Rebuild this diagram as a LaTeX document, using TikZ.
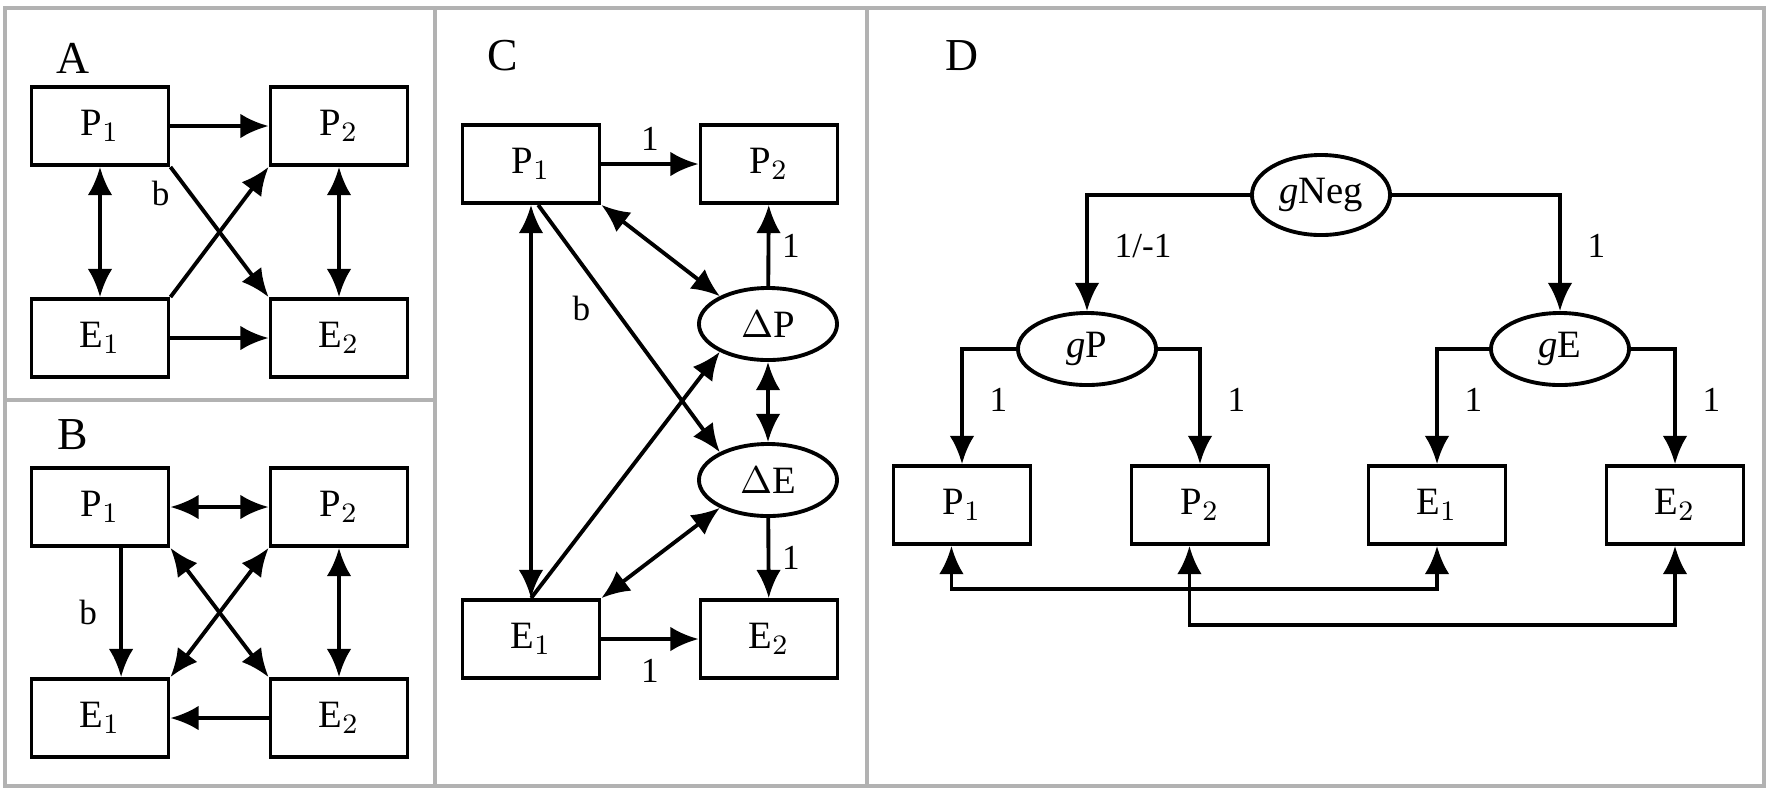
\documentclass[tikz,border=0pt]{standalone}
\usepackage{fontspec}
\setmainfont{Liberation Serif}
\usetikzlibrary{shapes.geometric,arrows.meta}
\tikzset{>={Latex[length=8pt,width=7pt]}}
\tikzset{
  box/.style={draw, line width=1.1pt, minimum width=1.37cm, minimum height=0.78cm, inner sep=0pt, font=\fontsize{11}{13}\selectfont},
  lat/.style={draw, ellipse, line width=1.1pt, minimum width=1.38cm, minimum height=0.72cm, inner sep=0pt, font=\fontsize{11}{13}\selectfont},
  path/.style={line width=1.1pt},
  coef/.style={font=\fontsize{10}{12}\selectfont},
  panel/.style={draw=black!30, line width=1pt},
  tag/.style={font=\fontsize{13}{15}\selectfont}
}
\begin{document}
\begin{tikzpicture}[x=0.01cm, y=-0.01cm]
\useasboundingbox (0,0) rectangle (1772,793);
% panel frames
\draw[panel] (5,8) rectangle (1764,786);
\draw[panel] (435,8) -- (435,786);
\draw[panel] (867,8) -- (867,786);
\draw[panel] (5,400) -- (435,400);

% panel A
\node[tag] at (73,58) {A};
\node[box] (aP1) at (100,126) {P$_1$};
\node[box] (aP2) at (339,126) {P$_2$};
\node[box] (aE1) at (100,338) {E$_1$};
\node[box] (aE2) at (339,338) {E$_2$};
\draw[path,->] (aP1.east) -- (aP2.west);
\draw[path,->] (aE1.east) -- (aE2.west);
\draw[path,<->] (aP1) -- (aE1);
\draw[path,<->] (aP2) -- (aE2);
\draw[path,->] (aP1.south east) -- node[coef, pos=0.2, left=2pt] {b} (aE2.north west);
\draw[path,->] (aE1.north east) -- (aP2.south west);

% panel B
\node[tag] at (73,435) {B};
\node[box] (bP1) at (100,507) {P$_1$};
\node[box] (bP2) at (339,507) {P$_2$};
\node[box] (bE1) at (100,718) {E$_1$};
\node[box] (bE2) at (339,718) {E$_2$};
\draw[path,<->] (bP1.east) -- (bP2.west);
\draw[path,->] (bE2.west) -- (bE1.east);
\draw[path,->] ([xshift=6]bP1.south) -- node[coef, left=3pt] {b} ([xshift=6]bE1.north);
\draw[path,<->] (bP2) -- (bE2);
\draw[path,<->] (bP1.south east) -- (bE2.north west);
\draw[path,<->] (bP2.south west) -- (bE1.north east);

% panel C
\node[tag] at (503,56) {C};
\node[box] (cP1) at (531,164) {P$_1$};
\node[box] (cP2) at (769,164) {P$_2$};
\node[box] (cE1) at (531,639) {E$_1$};
\node[box] (cE2) at (769,639) {E$_2$};
\node[lat] (cdP) at (768,324) {$\Delta$P};
\node[lat] (cdE) at (768,480) {$\Delta$E};
\draw[path,->] (cP1.east) -- node[coef, above] {1} (cP2.west);
\draw[path,->] (cE1.east) -- node[coef, below=2pt] {1} (cE2.west);
\draw[path,<->] (cP1) -- (cE1);
\draw[path,->] (cdP) -- node[coef, right] {1} (cP2);
\draw[path,->] (cdE) -- node[coef, right] {1} (cE2);
\draw[path,<->] (cdP) -- (cdE);
\draw[path,<->] (cP1.south east) -- (cdP.150);
\draw[path,->] ([xshift=-18]cP1.south east) -- node[coef, pos=0.42, left=3pt] {b} (cdE.150);
\draw[path,->] ([xshift=-20]cE1.north east) -- (cdP.210);
\draw[path,<->] (cE1.north east) -- (cdE.210);

% panel D
\node[tag] at (962,56) {D};
\node[lat, minimum height=0.8cm] (gNeg) at (1321,195) {\textit{g}Neg};
\node[lat] (gP) at (1087,349) {\textit{g}P};
\node[lat] (gE) at (1560,349) {\textit{g}E};
\node[box] (dP1) at (962,505) {P$_1$};
\node[box] (dP2) at (1200,505) {P$_2$};
\node[box] (dE1) at (1437,505) {E$_1$};
\node[box] (dE2) at (1675,505) {E$_2$};
\draw[path,->] (gNeg.west) -| node[coef, pos=0.72, right=4pt] {1/-1} (gP.north);
\draw[path,->] (gNeg.east) -| node[coef, pos=0.72, right=4pt] {1} (gE.north);
\draw[path,->] (gP.west) -| node[coef, pos=0.72, right=4pt] {1} (dP1.north);
\draw[path,->] (gP.east) -| node[coef, pos=0.72, right=4pt] {1} (dP2.north);
\draw[path,->] (gE.west) -| node[coef, pos=0.72, right=4pt] {1} (dE1.north);
\draw[path,->] (gE.east) -| node[coef, pos=0.72, right=4pt] {1} (dE2.north);
\coordinate (lowA) at (0,589);
\coordinate (lowB) at (0,625);
\draw[path,<->] ([xshift=-3]dP1.south) -- ([xshift=-3]dP1.south |- lowA) -| (dE1.south);
\draw[path,<->] ([xshift=-3]dP2.south) -- ([xshift=-3]dP2.south |- lowB) -| (dE2.south);
\end{tikzpicture}
\end{document}
